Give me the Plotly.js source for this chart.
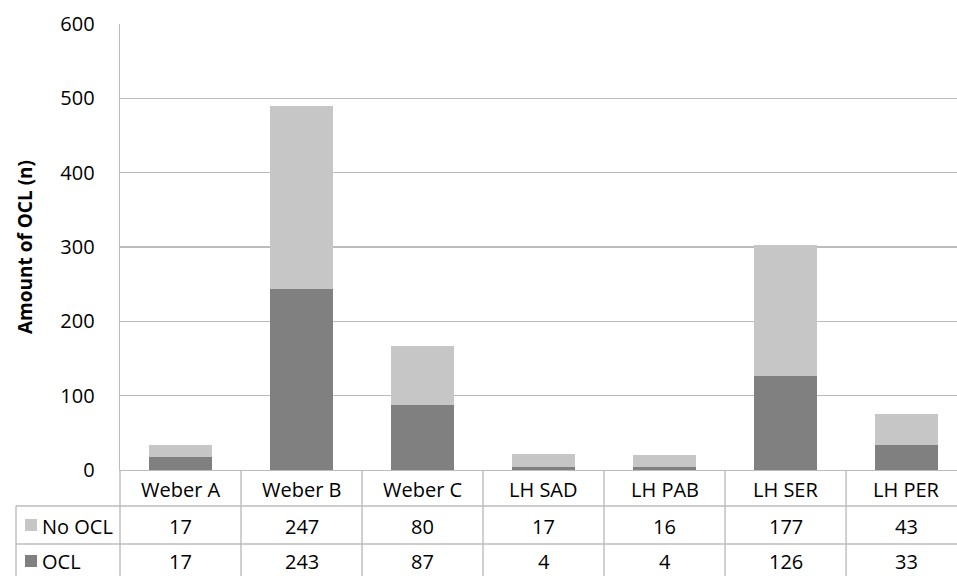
<!DOCTYPE html>
<html>
<head>
<meta charset="utf-8">
<script src="https://cdn.plot.ly/plotly-3.0.1.min.js"></script>
<style>html,body{margin:0;padding:0;background:#fff;}#chart{width:957px;height:576px;}</style>
</head>
<body>
<div id="chart"></div>
<script>
const categories = ["Weber A", "Weber B", "Weber C", "LH SAD", "LH PAB", "LH SER", "LH PER"];
const noOcl = [17, 247, 80, 17, 16, 177, 43];
const ocl = [17, 243, 87, 4, 4, 126, 33];
const yTicks = [0, 100, 200, 300, 400, 500, 600];

const W = 957, H = 576;
const L = 120, T = 24, B = 470;
const PW = W - L, PH = B - T;
const px2x = p => (p - L) / PW;
const py2y = p => (B - p) / PH;

const FONT = "Open Sans, sans-serif";
const FS = 20;
const LINE = "#bcbcbc";
const DARK = "#808080";
const LIGHT = "#c6c6c6";

const traces = [
  {type: "bar", name: "OCL", x: categories, y: ocl, marker: {color: DARK}, hoverinfo: "x+y+name"},
  {type: "bar", name: "No OCL", x: categories, y: noOcl, marker: {color: LIGHT}, hoverinfo: "x+y+name"}
];

const shapes = [];
const annotations = [];
const lineStyle = {color: LINE, width: 1.4};
const bottom = py2y(H + 2);

for (let k = 0; k < categories.length - 1; k++) {
  shapes.push({type: "line", xref: "x", yref: "paper", x0: k + 0.5, x1: k + 0.5, y0: 0, y1: bottom, line: lineStyle});
}
shapes.push({type: "line", xref: "paper", yref: "paper", x0: 0, x1: 0, y0: 0, y1: bottom, line: lineStyle});
shapes.push({type: "line", xref: "paper", yref: "paper", x0: px2x(16), x1: px2x(16), y0: py2y(506), y1: bottom, line: lineStyle});
[506, 544].forEach(py => {
  shapes.push({type: "line", xref: "paper", yref: "paper", x0: px2x(16), x1: 1, y0: py2y(py), y1: py2y(py), line: lineStyle});
});
shapes.push({type: "rect", xref: "paper", yref: "paper", x0: px2x(25), x1: px2x(37), y0: py2y(519), y1: py2y(531), line: {width: 0}, fillcolor: LIGHT});
shapes.push({type: "rect", xref: "paper", yref: "paper", x0: px2x(25), x1: px2x(37), y0: py2y(555), y1: py2y(567), line: {width: 0}, fillcolor: DARK});

const tfont = {family: FONT, size: FS, color: "#000"};
categories.forEach((c, i) => {
  annotations.push({xref: "x", yref: "paper", x: i, y: py2y(489), text: c, showarrow: false, font: tfont, xanchor: "center", yanchor: "middle"});
  annotations.push({xref: "x", yref: "paper", x: i, y: py2y(526), text: String(noOcl[i]), showarrow: false, font: tfont, xanchor: "center", yanchor: "middle"});
  annotations.push({xref: "x", yref: "paper", x: i, y: py2y(561), text: String(ocl[i]), showarrow: false, font: tfont, xanchor: "center", yanchor: "middle"});
});
annotations.push({xref: "paper", yref: "paper", x: px2x(40), y: py2y(526), text: "No OCL", showarrow: false, font: tfont, xanchor: "left", yanchor: "middle"});
annotations.push({xref: "paper", yref: "paper", x: px2x(40), y: py2y(561), text: "OCL", showarrow: false, font: tfont, xanchor: "left", yanchor: "middle"});

const layout = {
  width: W, height: H,
  margin: {l: L, r: 0, t: T, b: H - B, pad: 0},
  paper_bgcolor: "#fff", plot_bgcolor: "#fff",
  barmode: "stack",
  bargap: 0.485,
  showlegend: false,
  font: {family: FONT, size: FS, color: "#000"},
  xaxis: {
    type: "category", range: [-0.5, 6.417], showticklabels: false, ticks: "",
    showgrid: false, zeroline: false, showline: true, linecolor: LINE, linewidth: 1.4, fixedrange: true
  },
  yaxis: {
    range: [0, 600], tickvals: yTicks, ticktext: yTicks.map(String), ticks: "", ticklen: 0,
    ticklabelstandoff: 20,
    showgrid: true, gridcolor: LINE, gridwidth: 1.4, zeroline: false,
    showline: true, linecolor: LINE, linewidth: 1.4, tickfont: {family: FONT, size: FS, color: "#000"},
    title: {text: "<b>Amount of OCL (n)</b>", font: {family: FONT, size: 19, color: "#000"}, standoff: 22},
    automargin: false, fixedrange: true
  },
  shapes: shapes,
  annotations: annotations
};

Plotly.newPlot("chart", traces, layout, {displayModeBar: false, staticPlot: true});
</script>
</body>
</html>
